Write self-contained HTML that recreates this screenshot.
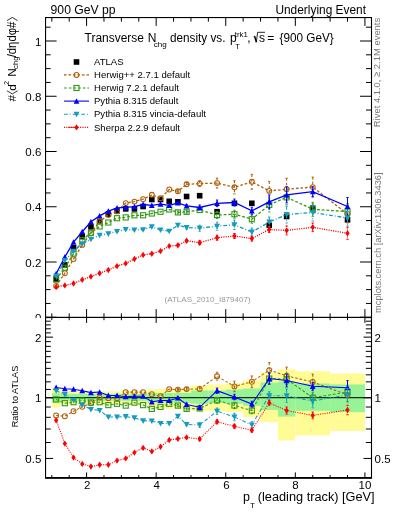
<!DOCTYPE html><html><head><meta charset="utf-8"><style>html,body{margin:0;padding:0;background:#fff;overflow:hidden}#w{will-change:transform;width:393px;height:512px}svg{display:block;font-family:"Liberation Sans",sans-serif}</style></head><body><div id="w"><svg width="393" height="512" viewBox="0 0 393 512">
<defs><clipPath id="cu"><rect x="45.6" y="17.6" width="325.4" height="299.8"/></clipPath><clipPath id="cr"><rect x="45.6" y="317.4" width="325.4" height="160.5"/></clipPath></defs>
<rect width="393" height="512" fill="#fff"/>
<text x="50.6" y="13.7" font-size="12" textLength="65" lengthAdjust="spacingAndGlyphs">900 GeV pp</text>
<text x="275.4" y="13.7" font-size="12" textLength="90.6" lengthAdjust="spacingAndGlyphs">Underlying Event</text>
<path d="M51.80,17.6v4 M51.80,317.4v-4 M69.19,17.6v4 M69.19,317.4v-4 M86.59,17.6v8.3 M86.59,317.4v-8.3 M103.98,17.6v4 M103.98,317.4v-4 M121.38,17.6v4 M121.38,317.4v-4 M138.77,17.6v4 M138.77,317.4v-4 M156.17,17.6v8.3 M156.17,317.4v-8.3 M173.56,17.6v4 M173.56,317.4v-4 M190.96,17.6v4 M190.96,317.4v-4 M208.36,17.6v4 M208.36,317.4v-4 M225.75,17.6v8.3 M225.75,317.4v-8.3 M243.14,17.6v4 M243.14,317.4v-4 M260.54,17.6v4 M260.54,317.4v-4 M277.94,17.6v4 M277.94,317.4v-4 M295.33,17.6v8.3 M295.33,317.4v-8.3 M312.73,17.6v4 M312.73,317.4v-4 M330.12,17.6v4 M330.12,317.4v-4 M347.51,17.6v4 M347.51,317.4v-4 M364.91,17.6v8.3 M364.91,317.4v-8.3 M45.6,317.25h11 M371,317.25h-11 M45.6,303.44h5 M371,303.44h-5 M45.6,289.62h5 M371,289.62h-5 M45.6,275.81h5 M371,275.81h-5 M45.6,262.00h11 M371,262.00h-11 M45.6,248.19h5 M371,248.19h-5 M45.6,234.38h5 M371,234.38h-5 M45.6,220.56h5 M371,220.56h-5 M45.6,206.75h11 M371,206.75h-11 M45.6,192.94h5 M371,192.94h-5 M45.6,179.12h5 M371,179.12h-5 M45.6,165.31h5 M371,165.31h-5 M45.6,151.50h11 M371,151.50h-11 M45.6,137.69h5 M371,137.69h-5 M45.6,123.88h5 M371,123.88h-5 M45.6,110.06h5 M371,110.06h-5 M45.6,96.25h11 M371,96.25h-11 M45.6,82.44h5 M371,82.44h-5 M45.6,68.62h5 M371,68.62h-5 M45.6,54.81h5 M371,54.81h-5 M45.6,41.00h11 M371,41.00h-11 M45.6,27.19h5 M371,27.19h-5" stroke="#000" stroke-width="1" fill="none"/>
<text x="41.3" y="321.95" font-size="11.5" text-anchor="end">0</text>
<text x="41.3" y="266.70" font-size="11.5" text-anchor="end">0.2</text>
<text x="41.3" y="211.45" font-size="11.5" text-anchor="end">0.4</text>
<text x="41.3" y="156.20" font-size="11.5" text-anchor="end">0.6</text>
<text x="41.3" y="100.95" font-size="11.5" text-anchor="end">0.8</text>
<text x="41.3" y="45.70" font-size="11.5" text-anchor="end">1</text>
<text x="84.6" y="41.8" font-size="12" textLength="59.3" lengthAdjust="spacingAndGlyphs">Transverse</text>
<text x="147.8" y="41.8" font-size="12">N</text>
<text x="153.8" y="47.0" font-size="8">chg</text>
<text x="169.9" y="41.8" font-size="12" textLength="55.6" lengthAdjust="spacingAndGlyphs">density vs.</text>
<text x="230.1" y="41.8" font-size="12">p</text>
<text x="234.8" y="37.2" font-size="7.8">trk1</text>
<text x="235.2" y="48.7" font-size="7.5">T</text>
<text x="247.3" y="41.8" font-size="12">,</text>
<path d="M253.6,36.7L254.6,36.1" stroke="#000" stroke-width="0.8"/><path d="M254.6,36.1L256.4,42.2" stroke="#000" stroke-width="1.5"/><path d="M256.4,42.2L257.6,32.3H265" fill="none" stroke="#000" stroke-width="0.85"/>
<text x="258.9" y="41.6" font-size="12">s</text>
<text x="267.2" y="41.8" font-size="12">=</text>
<text x="279.6" y="41.8" font-size="12" textLength="54.2" lengthAdjust="spacingAndGlyphs">{900 GeV}</text>
<rect x="73.70" y="59.20" width="5.6" height="5.6" fill="#000"/>
<text x="94.0" y="64.9" font-size="9.55">ATLAS</text>
<path d="M64,74.9H89" stroke="#af5f0a" stroke-width="1.1" stroke-dasharray="2.6 1.9"/>
<circle cx="76.50" cy="74.90" r="2.45" fill="none" stroke="#af5f0a" stroke-width="1.05"/>
<text x="94.0" y="77.7" font-size="9.55">Herwig++ 2.7.1 default</text>
<path d="M64,88.0H89" stroke="#339914" stroke-width="1.1" stroke-dasharray="2.8 1.9"/>
<rect x="73.95" y="85.45" width="5.1" height="5.1" fill="none" stroke="#339914" stroke-width="1.1"/>
<text x="94.0" y="90.9" font-size="9.55">Herwig 7.2.1 default</text>
<path d="M64,101.1H89" stroke="#0000ff" stroke-width="1.1"/>
<path d="M76.50,98.20L79.40,103.70L73.60,103.70Z" fill="#0000ff"/>
<text x="94.0" y="104.2" font-size="9.55">Pythia 8.315 default</text>
<path d="M64,114.2H89" stroke="#149bbe" stroke-width="1.1" stroke-dasharray="3.8 1.9 1 1.9"/>
<path d="M76.50,117.30L79.50,111.70L73.50,111.70Z" fill="#149bbe"/>
<text x="94.0" y="117.4" font-size="9.55">Pythia 8.315 vincia-default</text>
<path d="M64,127.4H89" stroke="#ff0000" stroke-width="1.1" stroke-dasharray="1.1 1.2"/>
<path d="M68.2,127.4H76" stroke="#ff0000" stroke-width="1" stroke-opacity="0.8"/>
<path d="M76.50,124.20L78.65,127.40L76.50,130.60L74.35,127.40Z" fill="#ff0000"/>
<text x="94.0" y="130.7" font-size="9.55">Sherpa 2.2.9 default</text>
<text x="207.6" y="301.8" font-size="8.05" fill="#999" text-anchor="middle">(ATLAS_2010_I879407)</text>
<g clip-path="url(#cu)"><rect x="53.35" y="276.70" width="5.6" height="5.6" fill="#000"/>
<rect x="62.05" y="262.10" width="5.6" height="5.6" fill="#000"/>
<rect x="70.74" y="245.00" width="5.6" height="5.6" fill="#000"/>
<rect x="79.44" y="233.80" width="5.6" height="5.6" fill="#000"/>
<rect x="88.14" y="224.10" width="5.6" height="5.6" fill="#000"/>
<rect x="96.84" y="218.70" width="5.6" height="5.6" fill="#000"/>
<rect x="105.53" y="211.40" width="5.6" height="5.6" fill="#000"/>
<rect x="114.23" y="208.10" width="5.6" height="5.6" fill="#000"/>
<rect x="122.93" y="206.10" width="5.6" height="5.6" fill="#000"/>
<rect x="131.63" y="206.10" width="5.6" height="5.6" fill="#000"/>
<rect x="140.32" y="203.70" width="5.6" height="5.6" fill="#000"/>
<rect x="149.02" y="196.70" width="5.6" height="5.6" fill="#000"/>
<rect x="157.72" y="196.70" width="5.6" height="5.6" fill="#000"/>
<rect x="166.42" y="198.50" width="5.6" height="5.6" fill="#000"/>
<rect x="175.11" y="199.00" width="5.6" height="5.6" fill="#000"/>
<rect x="183.81" y="193.70" width="5.6" height="5.6" fill="#000"/>
<rect x="196.86" y="192.90" width="5.6" height="5.6" fill="#000"/>
<rect x="214.25" y="208.90" width="5.6" height="5.6" fill="#000"/>
<rect x="231.65" y="200.50" width="5.6" height="5.6" fill="#000"/>
<rect x="249.04" y="200.50" width="5.6" height="5.6" fill="#000"/>
<rect x="266.44" y="222.50" width="5.6" height="5.6" fill="#000"/>
<rect x="283.83" y="213.70" width="5.6" height="5.6" fill="#000"/>
<rect x="309.93" y="205.40" width="5.6" height="5.6" fill="#000"/>
<rect x="344.71" y="217.00" width="5.6" height="5.6" fill="#000"/></g>
<g clip-path="url(#cu)"><path d="M56.15,285.90 L64.85,273.20 L73.54,259.10 L82.24,244.90 L90.94,233.20 L99.64,221.50 L108.33,215.10 L117.03,211.40 L125.73,203.10 L134.43,201.60 L143.12,199.20 L151.82,194.80 L160.52,198.30 L169.22,189.50 L177.91,191.30 L186.61,184.30 L199.66,183.60 L217.05,183.10 L234.45,187.30 L251.84,181.80 L269.24,190.90 L286.63,189.20 L312.73,187.10 L347.51,214.00" fill="none" stroke="#af5f0a" stroke-width="1.3" stroke-dasharray="2.6 1.9"/>
<path d="M177.91,189.80V192.80M186.61,182.30V186.30M199.66,180.60V186.60M217.05,178.10V188.10M234.45,180.70V193.90M251.84,174.40V189.20M269.24,181.40V200.40M286.63,178.20V200.20M312.73,177.10V197.10M347.51,205.00V223.00" stroke="#af5f0a" stroke-width="1.05" stroke-dasharray="2.6 1.9"/>
<path d="M176.71,189.80h2.4M176.71,192.80h2.4M185.41,182.30h2.4M185.41,186.30h2.4M198.46,180.60h2.4M198.46,186.60h2.4M215.85,178.10h2.4M215.85,188.10h2.4M233.25,180.70h2.4M233.25,193.90h2.4M250.64,174.40h2.4M250.64,189.20h2.4M268.04,181.40h2.4M268.04,200.40h2.4M285.43,178.20h2.4M285.43,200.20h2.4M311.53,177.10h2.4M311.53,197.10h2.4M346.31,205.00h2.4M346.31,223.00h2.4" stroke="#af5f0a" stroke-width="0.9"/>
<circle cx="56.15" cy="285.90" r="2.45" fill="none" stroke="#af5f0a" stroke-width="1.05"/>
<circle cx="64.85" cy="273.20" r="2.45" fill="none" stroke="#af5f0a" stroke-width="1.05"/>
<circle cx="73.54" cy="259.10" r="2.45" fill="none" stroke="#af5f0a" stroke-width="1.05"/>
<circle cx="82.24" cy="244.90" r="2.45" fill="none" stroke="#af5f0a" stroke-width="1.05"/>
<circle cx="90.94" cy="233.20" r="2.45" fill="none" stroke="#af5f0a" stroke-width="1.05"/>
<circle cx="99.64" cy="221.50" r="2.45" fill="none" stroke="#af5f0a" stroke-width="1.05"/>
<circle cx="108.33" cy="215.10" r="2.45" fill="none" stroke="#af5f0a" stroke-width="1.05"/>
<circle cx="117.03" cy="211.40" r="2.45" fill="none" stroke="#af5f0a" stroke-width="1.05"/>
<circle cx="125.73" cy="203.10" r="2.45" fill="none" stroke="#af5f0a" stroke-width="1.05"/>
<circle cx="134.43" cy="201.60" r="2.45" fill="none" stroke="#af5f0a" stroke-width="1.05"/>
<circle cx="143.12" cy="199.20" r="2.45" fill="none" stroke="#af5f0a" stroke-width="1.05"/>
<circle cx="151.82" cy="194.80" r="2.45" fill="none" stroke="#af5f0a" stroke-width="1.05"/>
<circle cx="160.52" cy="198.30" r="2.45" fill="none" stroke="#af5f0a" stroke-width="1.05"/>
<circle cx="169.22" cy="189.50" r="2.45" fill="none" stroke="#af5f0a" stroke-width="1.05"/>
<circle cx="177.91" cy="191.30" r="2.45" fill="none" stroke="#af5f0a" stroke-width="1.05"/>
<circle cx="186.61" cy="184.30" r="2.45" fill="none" stroke="#af5f0a" stroke-width="1.05"/>
<circle cx="199.66" cy="183.60" r="2.45" fill="none" stroke="#af5f0a" stroke-width="1.05"/>
<circle cx="217.05" cy="183.10" r="2.45" fill="none" stroke="#af5f0a" stroke-width="1.05"/>
<circle cx="234.45" cy="187.30" r="2.45" fill="none" stroke="#af5f0a" stroke-width="1.05"/>
<circle cx="251.84" cy="181.80" r="2.45" fill="none" stroke="#af5f0a" stroke-width="1.05"/>
<circle cx="269.24" cy="190.90" r="2.45" fill="none" stroke="#af5f0a" stroke-width="1.05"/>
<circle cx="286.63" cy="189.20" r="2.45" fill="none" stroke="#af5f0a" stroke-width="1.05"/>
<circle cx="312.73" cy="187.10" r="2.45" fill="none" stroke="#af5f0a" stroke-width="1.05"/>
<circle cx="347.51" cy="214.00" r="2.45" fill="none" stroke="#af5f0a" stroke-width="1.05"/></g>
<g clip-path="url(#cu)"><path d="M56.15,279.30 L64.85,267.70 L73.54,253.60 L82.24,240.20 L90.94,232.70 L99.64,226.40 L108.33,222.50 L117.03,218.20 L125.73,217.40 L134.43,215.30 L143.12,215.30 L151.82,213.50 L160.52,211.80 L169.22,209.50 L177.91,212.40 L186.61,211.80 L199.66,210.00 L217.05,215.00 L234.45,214.20 L251.84,219.20 L269.24,204.90 L286.63,197.30 L312.73,209.30 L347.51,211.60" fill="none" stroke="#339914" stroke-width="1.3" stroke-dasharray="2.8 1.9"/>
<path d="M177.91,210.90V213.90M186.61,210.30V213.30M199.66,207.50V212.50M217.05,211.50V218.50M234.45,210.20V218.20M251.84,215.20V223.20M269.24,197.90V211.90M286.63,190.30V204.30M312.73,202.30V216.30M347.51,203.60V219.60" stroke="#339914" stroke-width="1.05" stroke-dasharray="2.8 1.9"/>
<path d="M176.71,210.90h2.4M176.71,213.90h2.4M185.41,210.30h2.4M185.41,213.30h2.4M198.46,207.50h2.4M198.46,212.50h2.4M215.85,211.50h2.4M215.85,218.50h2.4M233.25,210.20h2.4M233.25,218.20h2.4M250.64,215.20h2.4M250.64,223.20h2.4M268.04,197.90h2.4M268.04,211.90h2.4M285.43,190.30h2.4M285.43,204.30h2.4M311.53,202.30h2.4M311.53,216.30h2.4M346.31,203.60h2.4M346.31,219.60h2.4" stroke="#339914" stroke-width="0.9"/>
<rect x="53.60" y="276.75" width="5.1" height="5.1" fill="none" stroke="#339914" stroke-width="1.1"/>
<rect x="62.30" y="265.15" width="5.1" height="5.1" fill="none" stroke="#339914" stroke-width="1.1"/>
<rect x="70.99" y="251.05" width="5.1" height="5.1" fill="none" stroke="#339914" stroke-width="1.1"/>
<rect x="79.69" y="237.65" width="5.1" height="5.1" fill="none" stroke="#339914" stroke-width="1.1"/>
<rect x="88.39" y="230.15" width="5.1" height="5.1" fill="none" stroke="#339914" stroke-width="1.1"/>
<rect x="97.09" y="223.85" width="5.1" height="5.1" fill="none" stroke="#339914" stroke-width="1.1"/>
<rect x="105.78" y="219.95" width="5.1" height="5.1" fill="none" stroke="#339914" stroke-width="1.1"/>
<rect x="114.48" y="215.65" width="5.1" height="5.1" fill="none" stroke="#339914" stroke-width="1.1"/>
<rect x="123.18" y="214.85" width="5.1" height="5.1" fill="none" stroke="#339914" stroke-width="1.1"/>
<rect x="131.88" y="212.75" width="5.1" height="5.1" fill="none" stroke="#339914" stroke-width="1.1"/>
<rect x="140.57" y="212.75" width="5.1" height="5.1" fill="none" stroke="#339914" stroke-width="1.1"/>
<rect x="149.27" y="210.95" width="5.1" height="5.1" fill="none" stroke="#339914" stroke-width="1.1"/>
<rect x="157.97" y="209.25" width="5.1" height="5.1" fill="none" stroke="#339914" stroke-width="1.1"/>
<rect x="166.67" y="206.95" width="5.1" height="5.1" fill="none" stroke="#339914" stroke-width="1.1"/>
<rect x="175.36" y="209.85" width="5.1" height="5.1" fill="none" stroke="#339914" stroke-width="1.1"/>
<rect x="184.06" y="209.25" width="5.1" height="5.1" fill="none" stroke="#339914" stroke-width="1.1"/>
<rect x="197.11" y="207.45" width="5.1" height="5.1" fill="none" stroke="#339914" stroke-width="1.1"/>
<rect x="214.50" y="212.45" width="5.1" height="5.1" fill="none" stroke="#339914" stroke-width="1.1"/>
<rect x="231.90" y="211.65" width="5.1" height="5.1" fill="none" stroke="#339914" stroke-width="1.1"/>
<rect x="249.29" y="216.65" width="5.1" height="5.1" fill="none" stroke="#339914" stroke-width="1.1"/>
<rect x="266.69" y="202.35" width="5.1" height="5.1" fill="none" stroke="#339914" stroke-width="1.1"/>
<rect x="284.08" y="194.75" width="5.1" height="5.1" fill="none" stroke="#339914" stroke-width="1.1"/>
<rect x="310.18" y="206.75" width="5.1" height="5.1" fill="none" stroke="#339914" stroke-width="1.1"/>
<rect x="344.96" y="209.05" width="5.1" height="5.1" fill="none" stroke="#339914" stroke-width="1.1"/></g>
<g clip-path="url(#cu)"><path d="M56.15,273.70 L64.85,257.00 L73.54,242.20 L82.24,231.75 L90.94,221.70 L99.64,215.90 L108.33,211.20 L117.03,207.90 L125.73,207.40 L134.43,206.60 L143.12,204.50 L151.82,205.40 L160.52,204.20 L169.22,205.40 L177.91,203.00 L186.61,205.90 L199.66,207.50 L217.05,203.30 L234.45,202.50 L251.84,210.80 L269.24,201.90 L286.63,194.80 L312.73,191.70 L347.51,206.50" fill="none" stroke="#0000ff" stroke-width="1.3"/>
<path d="M177.91,201.50V204.50M186.61,204.40V207.40M199.66,205.00V210.00M217.05,200.00V206.60M234.45,199.00V206.00M251.84,207.30V214.30M269.24,194.90V208.90M286.63,186.80V202.80M312.73,186.70V196.70M347.51,197.50V215.50" stroke="#0000ff" stroke-width="1.05"/>
<path d="M176.71,201.50h2.4M176.71,204.50h2.4M185.41,204.40h2.4M185.41,207.40h2.4M198.46,205.00h2.4M198.46,210.00h2.4M215.85,200.00h2.4M215.85,206.60h2.4M233.25,199.00h2.4M233.25,206.00h2.4M250.64,207.30h2.4M250.64,214.30h2.4M268.04,194.90h2.4M268.04,208.90h2.4M285.43,186.80h2.4M285.43,202.80h2.4M311.53,186.70h2.4M311.53,196.70h2.4M346.31,197.50h2.4M346.31,215.50h2.4" stroke="#0000ff" stroke-width="0.9"/>
<path d="M56.15,270.80L59.05,276.30L53.25,276.30Z" fill="#0000ff"/>
<path d="M64.85,254.10L67.75,259.60L61.95,259.60Z" fill="#0000ff"/>
<path d="M73.54,239.30L76.44,244.80L70.64,244.80Z" fill="#0000ff"/>
<path d="M82.24,228.85L85.14,234.35L79.34,234.35Z" fill="#0000ff"/>
<path d="M90.94,218.80L93.84,224.30L88.04,224.30Z" fill="#0000ff"/>
<path d="M99.64,213.00L102.54,218.50L96.74,218.50Z" fill="#0000ff"/>
<path d="M108.33,208.30L111.23,213.80L105.43,213.80Z" fill="#0000ff"/>
<path d="M117.03,205.00L119.93,210.50L114.13,210.50Z" fill="#0000ff"/>
<path d="M125.73,204.50L128.63,210.00L122.83,210.00Z" fill="#0000ff"/>
<path d="M134.43,203.70L137.33,209.20L131.53,209.20Z" fill="#0000ff"/>
<path d="M143.12,201.60L146.02,207.10L140.22,207.10Z" fill="#0000ff"/>
<path d="M151.82,202.50L154.72,208.00L148.92,208.00Z" fill="#0000ff"/>
<path d="M160.52,201.30L163.42,206.80L157.62,206.80Z" fill="#0000ff"/>
<path d="M169.22,202.50L172.12,208.00L166.32,208.00Z" fill="#0000ff"/>
<path d="M177.91,200.10L180.81,205.60L175.01,205.60Z" fill="#0000ff"/>
<path d="M186.61,203.00L189.51,208.50L183.71,208.50Z" fill="#0000ff"/>
<path d="M199.66,204.60L202.56,210.10L196.76,210.10Z" fill="#0000ff"/>
<path d="M217.05,200.40L219.95,205.90L214.15,205.90Z" fill="#0000ff"/>
<path d="M234.45,199.60L237.35,205.10L231.55,205.10Z" fill="#0000ff"/>
<path d="M251.84,207.90L254.74,213.40L248.94,213.40Z" fill="#0000ff"/>
<path d="M269.24,199.00L272.14,204.50L266.34,204.50Z" fill="#0000ff"/>
<path d="M286.63,191.90L289.53,197.40L283.73,197.40Z" fill="#0000ff"/>
<path d="M312.73,188.80L315.62,194.30L309.83,194.30Z" fill="#0000ff"/>
<path d="M347.51,203.60L350.41,209.10L344.62,209.10Z" fill="#0000ff"/></g>
<g clip-path="url(#cu)"><path d="M56.15,276.10 L64.85,260.50 L73.54,251.20 L82.24,243.80 L90.94,239.20 L99.64,235.20 L108.33,233.80 L117.03,231.50 L125.73,229.40 L134.43,229.90 L143.12,229.70 L151.82,226.80 L160.52,230.00 L169.22,231.20 L177.91,225.20 L186.61,227.60 L199.66,228.20 L217.05,226.20 L234.45,224.80 L251.84,232.10 L269.24,222.00 L286.63,214.50 L312.73,212.50 L347.51,218.00" fill="none" stroke="#149bbe" stroke-width="1.3" stroke-dasharray="3.8 1.9 1 1.9"/>
<path d="M177.91,223.70V226.70M186.61,226.10V229.10M199.66,225.20V231.20M217.05,222.20V230.20M234.45,220.10V229.50M251.84,228.10V236.10M269.24,217.00V227.00M286.63,206.00V223.00M312.73,204.00V221.00M347.51,210.00V226.00" stroke="#149bbe" stroke-width="1.05" stroke-dasharray="3.8 1.9 1 1.9"/>
<path d="M176.71,223.70h2.4M176.71,226.70h2.4M185.41,226.10h2.4M185.41,229.10h2.4M198.46,225.20h2.4M198.46,231.20h2.4M215.85,222.20h2.4M215.85,230.20h2.4M233.25,220.10h2.4M233.25,229.50h2.4M250.64,228.10h2.4M250.64,236.10h2.4M268.04,217.00h2.4M268.04,227.00h2.4M285.43,206.00h2.4M285.43,223.00h2.4M311.53,204.00h2.4M311.53,221.00h2.4M346.31,210.00h2.4M346.31,226.00h2.4" stroke="#149bbe" stroke-width="0.9"/>
<path d="M56.15,279.20L59.15,273.60L53.15,273.60Z" fill="#149bbe"/>
<path d="M64.85,263.60L67.85,258.00L61.85,258.00Z" fill="#149bbe"/>
<path d="M73.54,254.30L76.54,248.70L70.54,248.70Z" fill="#149bbe"/>
<path d="M82.24,246.90L85.24,241.30L79.24,241.30Z" fill="#149bbe"/>
<path d="M90.94,242.30L93.94,236.70L87.94,236.70Z" fill="#149bbe"/>
<path d="M99.64,238.30L102.64,232.70L96.64,232.70Z" fill="#149bbe"/>
<path d="M108.33,236.90L111.33,231.30L105.33,231.30Z" fill="#149bbe"/>
<path d="M117.03,234.60L120.03,229.00L114.03,229.00Z" fill="#149bbe"/>
<path d="M125.73,232.50L128.73,226.90L122.73,226.90Z" fill="#149bbe"/>
<path d="M134.43,233.00L137.43,227.40L131.43,227.40Z" fill="#149bbe"/>
<path d="M143.12,232.80L146.12,227.20L140.12,227.20Z" fill="#149bbe"/>
<path d="M151.82,229.90L154.82,224.30L148.82,224.30Z" fill="#149bbe"/>
<path d="M160.52,233.10L163.52,227.50L157.52,227.50Z" fill="#149bbe"/>
<path d="M169.22,234.30L172.22,228.70L166.22,228.70Z" fill="#149bbe"/>
<path d="M177.91,228.30L180.91,222.70L174.91,222.70Z" fill="#149bbe"/>
<path d="M186.61,230.70L189.61,225.10L183.61,225.10Z" fill="#149bbe"/>
<path d="M199.66,231.30L202.66,225.70L196.66,225.70Z" fill="#149bbe"/>
<path d="M217.05,229.30L220.05,223.70L214.05,223.70Z" fill="#149bbe"/>
<path d="M234.45,227.90L237.45,222.30L231.45,222.30Z" fill="#149bbe"/>
<path d="M251.84,235.20L254.84,229.60L248.84,229.60Z" fill="#149bbe"/>
<path d="M269.24,225.10L272.24,219.50L266.24,219.50Z" fill="#149bbe"/>
<path d="M286.63,217.60L289.63,212.00L283.63,212.00Z" fill="#149bbe"/>
<path d="M312.73,215.60L315.73,210.00L309.73,210.00Z" fill="#149bbe"/>
<path d="M347.51,221.10L350.51,215.50L344.51,215.50Z" fill="#149bbe"/></g>
<g clip-path="url(#cu)"><path d="M56.15,287.00 L64.85,285.40 L73.54,283.50 L82.24,279.80 L90.94,276.60 L99.64,273.20 L108.33,270.00 L117.03,266.10 L125.73,263.40 L134.43,259.00 L143.12,254.90 L151.82,253.70 L160.52,251.10 L169.22,246.10 L177.91,245.30 L186.61,240.80 L199.66,242.70 L217.05,237.70 L234.45,236.00 L251.84,238.60 L269.24,229.50 L286.63,230.40 L312.73,227.30 L347.51,233.30" fill="none" stroke="#ff0000" stroke-width="1.3" stroke-dasharray="1.1 1.2"/>
<path d="M177.91,244.30V246.30M186.61,239.80V241.80M199.66,240.70V244.70M217.05,235.20V240.20M234.45,233.50V238.50M251.84,236.10V241.10M269.24,226.50V232.50M286.63,225.90V234.90M312.73,223.00V231.60M347.51,227.30V239.30" stroke="#ff0000" stroke-width="1.05" stroke-dasharray="1.1 1.2"/>
<path d="M176.71,244.30h2.4M176.71,246.30h2.4M185.41,239.80h2.4M185.41,241.80h2.4M198.46,240.70h2.4M198.46,244.70h2.4M215.85,235.20h2.4M215.85,240.20h2.4M233.25,233.50h2.4M233.25,238.50h2.4M250.64,236.10h2.4M250.64,241.10h2.4M268.04,226.50h2.4M268.04,232.50h2.4M285.43,225.90h2.4M285.43,234.90h2.4M311.53,223.00h2.4M311.53,231.60h2.4M346.31,227.30h2.4M346.31,239.30h2.4" stroke="#ff0000" stroke-width="0.9"/>
<path d="M56.15,283.80L58.30,287.00L56.15,290.20L54.00,287.00Z" fill="#ff0000"/>
<path d="M64.85,282.20L67.00,285.40L64.85,288.60L62.70,285.40Z" fill="#ff0000"/>
<path d="M73.54,280.30L75.69,283.50L73.54,286.70L71.39,283.50Z" fill="#ff0000"/>
<path d="M82.24,276.60L84.39,279.80L82.24,283.00L80.09,279.80Z" fill="#ff0000"/>
<path d="M90.94,273.40L93.09,276.60L90.94,279.80L88.79,276.60Z" fill="#ff0000"/>
<path d="M99.64,270.00L101.79,273.20L99.64,276.40L97.49,273.20Z" fill="#ff0000"/>
<path d="M108.33,266.80L110.48,270.00L108.33,273.20L106.18,270.00Z" fill="#ff0000"/>
<path d="M117.03,262.90L119.18,266.10L117.03,269.30L114.88,266.10Z" fill="#ff0000"/>
<path d="M125.73,260.20L127.88,263.40L125.73,266.60L123.58,263.40Z" fill="#ff0000"/>
<path d="M134.43,255.80L136.58,259.00L134.43,262.20L132.28,259.00Z" fill="#ff0000"/>
<path d="M143.12,251.70L145.27,254.90L143.12,258.10L140.97,254.90Z" fill="#ff0000"/>
<path d="M151.82,250.50L153.97,253.70L151.82,256.90L149.67,253.70Z" fill="#ff0000"/>
<path d="M160.52,247.90L162.67,251.10L160.52,254.30L158.37,251.10Z" fill="#ff0000"/>
<path d="M169.22,242.90L171.37,246.10L169.22,249.30L167.07,246.10Z" fill="#ff0000"/>
<path d="M177.91,242.10L180.06,245.30L177.91,248.50L175.76,245.30Z" fill="#ff0000"/>
<path d="M186.61,237.60L188.76,240.80L186.61,244.00L184.46,240.80Z" fill="#ff0000"/>
<path d="M199.66,239.50L201.81,242.70L199.66,245.90L197.51,242.70Z" fill="#ff0000"/>
<path d="M217.05,234.50L219.20,237.70L217.05,240.90L214.90,237.70Z" fill="#ff0000"/>
<path d="M234.45,232.80L236.60,236.00L234.45,239.20L232.30,236.00Z" fill="#ff0000"/>
<path d="M251.84,235.40L253.99,238.60L251.84,241.80L249.69,238.60Z" fill="#ff0000"/>
<path d="M269.24,226.30L271.39,229.50L269.24,232.70L267.09,229.50Z" fill="#ff0000"/>
<path d="M286.63,227.20L288.78,230.40L286.63,233.60L284.48,230.40Z" fill="#ff0000"/>
<path d="M312.73,224.10L314.88,227.30L312.73,230.50L310.58,227.30Z" fill="#ff0000"/>
<path d="M347.51,230.10L349.66,233.30L347.51,236.50L345.37,233.30Z" fill="#ff0000"/></g>
<rect x="45.55" y="17.55" width="325.95" height="300" fill="none" stroke="#000" stroke-width="1.1"/>
<rect x="0" y="317.9" width="393" height="194.1" fill="#fff"/>
<rect x="51.80" y="388.2" width="8.70" height="19.30" fill="#fffc96"/>
<rect x="60.50" y="391.2" width="8.70" height="13.20" fill="#fffc96"/>
<rect x="69.19" y="391.2" width="8.70" height="13.20" fill="#fffc96"/>
<rect x="77.89" y="391.2" width="8.70" height="13.20" fill="#fffc96"/>
<rect x="86.59" y="391.2" width="8.70" height="13.20" fill="#fffc96"/>
<rect x="95.29" y="391.2" width="8.70" height="13.20" fill="#fffc96"/>
<rect x="103.98" y="391.2" width="8.70" height="13.20" fill="#fffc96"/>
<rect x="112.68" y="391.2" width="8.70" height="13.20" fill="#fffc96"/>
<rect x="121.38" y="391.2" width="8.70" height="13.20" fill="#fffc96"/>
<rect x="130.08" y="391.2" width="8.70" height="13.20" fill="#fffc96"/>
<rect x="138.77" y="391.2" width="8.70" height="13.20" fill="#fffc96"/>
<rect x="147.47" y="389.1" width="8.70" height="19.80" fill="#fffc96"/>
<rect x="156.17" y="389.1" width="8.70" height="19.80" fill="#fffc96"/>
<rect x="164.87" y="389.1" width="8.70" height="19.80" fill="#fffc96"/>
<rect x="173.56" y="389.1" width="8.70" height="19.80" fill="#fffc96"/>
<rect x="182.26" y="389.1" width="8.70" height="19.80" fill="#fffc96"/>
<rect x="190.96" y="385.5" width="17.40" height="25.40" fill="#fffc96"/>
<rect x="208.36" y="384.4" width="17.39" height="26.50" fill="#fffc96"/>
<rect x="225.75" y="383.4" width="17.39" height="28.50" fill="#fffc96"/>
<rect x="243.14" y="380.4" width="17.40" height="36.60" fill="#fffc96"/>
<rect x="260.54" y="372.3" width="17.39" height="49.90" fill="#fffc96"/>
<rect x="277.94" y="369.3" width="17.39" height="71.20" fill="#fffc96"/>
<rect x="295.33" y="371.3" width="34.79" height="64.10" fill="#fffc96"/>
<rect x="330.12" y="373.5" width="34.79" height="57.40" fill="#fffc96"/>
<rect x="51.80" y="393.3" width="8.70" height="9.50" fill="#96f396"/>
<rect x="60.50" y="393.8" width="8.70" height="7.00" fill="#96f396"/>
<rect x="69.19" y="393.8" width="8.70" height="7.00" fill="#96f396"/>
<rect x="77.89" y="393.8" width="8.70" height="7.00" fill="#96f396"/>
<rect x="86.59" y="393.8" width="8.70" height="7.00" fill="#96f396"/>
<rect x="95.29" y="393.8" width="8.70" height="7.00" fill="#96f396"/>
<rect x="103.98" y="393.8" width="8.70" height="7.00" fill="#96f396"/>
<rect x="112.68" y="393.8" width="8.70" height="7.00" fill="#96f396"/>
<rect x="121.38" y="393.8" width="8.70" height="7.00" fill="#96f396"/>
<rect x="130.08" y="393.8" width="8.70" height="7.00" fill="#96f396"/>
<rect x="138.77" y="393.8" width="8.70" height="7.00" fill="#96f396"/>
<rect x="147.47" y="392.9" width="8.70" height="9.90" fill="#96f396"/>
<rect x="156.17" y="392.9" width="8.70" height="9.90" fill="#96f396"/>
<rect x="164.87" y="392.9" width="8.70" height="9.90" fill="#96f396"/>
<rect x="173.56" y="392.9" width="8.70" height="9.90" fill="#96f396"/>
<rect x="182.26" y="392.9" width="8.70" height="9.90" fill="#96f396"/>
<rect x="190.96" y="390.5" width="17.40" height="13.30" fill="#96f396"/>
<rect x="208.36" y="390.5" width="17.39" height="12.30" fill="#96f396"/>
<rect x="225.75" y="389.5" width="17.39" height="14.30" fill="#96f396"/>
<rect x="243.14" y="388.5" width="17.40" height="17.30" fill="#96f396"/>
<rect x="260.54" y="382.5" width="17.39" height="27.50" fill="#96f396"/>
<rect x="277.94" y="381.5" width="17.39" height="35.10" fill="#96f396"/>
<rect x="295.33" y="383.5" width="34.79" height="27.30" fill="#96f396"/>
<rect x="330.12" y="384.4" width="34.79" height="27.80" fill="#96f396"/>
<path d="M45.6,397.6H371" stroke="#000" stroke-opacity="0.82" stroke-width="1.2"/>
<g clip-path="url(#cr)"><path d="M56.15,415.50 L64.85,416.20 L73.54,411.30 L82.24,406.80 L90.94,403.20 L99.64,397.60 L108.33,398.20 L117.03,398.20 L125.73,392.10 L134.43,392.10 L143.12,392.10 L151.82,394.20 L160.52,396.20 L169.22,389.10 L177.91,389.60 L186.61,389.10 L199.66,388.90 L217.05,376.20 L234.45,386.40 L251.84,381.80 L269.24,370.10 L286.63,375.80 L312.73,382.00 L347.51,394.90" fill="none" stroke="#af5f0a" stroke-width="1.05" stroke-dasharray="2.6 1.9"/>
<path d="M177.91,388.42V390.79M186.61,387.52V390.68M199.66,386.53V391.27M217.05,372.25V380.15M234.45,381.19V391.61M251.84,375.95V387.65M269.24,362.60V377.61M286.63,367.11V384.49M312.73,374.10V389.90M347.51,387.79V402.01" stroke="#af5f0a" stroke-width="1.05" stroke-dasharray="2.6 1.9"/>
<path d="M176.71,388.42h2.4M176.71,390.79h2.4M185.41,387.52h2.4M185.41,390.68h2.4M198.46,386.53h2.4M198.46,391.27h2.4M215.85,372.25h2.4M215.85,380.15h2.4M233.25,381.19h2.4M233.25,391.61h2.4M250.64,375.95h2.4M250.64,387.65h2.4M268.04,362.60h2.4M268.04,377.61h2.4M285.43,367.11h2.4M285.43,384.49h2.4M311.53,374.10h2.4M311.53,389.90h2.4M346.31,387.79h2.4M346.31,402.01h2.4" stroke="#af5f0a" stroke-width="0.9"/>
<circle cx="56.15" cy="415.50" r="2.45" fill="none" stroke="#af5f0a" stroke-width="1.05"/>
<circle cx="64.85" cy="416.20" r="2.45" fill="none" stroke="#af5f0a" stroke-width="1.05"/>
<circle cx="73.54" cy="411.30" r="2.45" fill="none" stroke="#af5f0a" stroke-width="1.05"/>
<circle cx="82.24" cy="406.80" r="2.45" fill="none" stroke="#af5f0a" stroke-width="1.05"/>
<circle cx="90.94" cy="403.20" r="2.45" fill="none" stroke="#af5f0a" stroke-width="1.05"/>
<circle cx="99.64" cy="397.60" r="2.45" fill="none" stroke="#af5f0a" stroke-width="1.05"/>
<circle cx="108.33" cy="398.20" r="2.45" fill="none" stroke="#af5f0a" stroke-width="1.05"/>
<circle cx="117.03" cy="398.20" r="2.45" fill="none" stroke="#af5f0a" stroke-width="1.05"/>
<circle cx="125.73" cy="392.10" r="2.45" fill="none" stroke="#af5f0a" stroke-width="1.05"/>
<circle cx="134.43" cy="392.10" r="2.45" fill="none" stroke="#af5f0a" stroke-width="1.05"/>
<circle cx="143.12" cy="392.10" r="2.45" fill="none" stroke="#af5f0a" stroke-width="1.05"/>
<circle cx="151.82" cy="394.20" r="2.45" fill="none" stroke="#af5f0a" stroke-width="1.05"/>
<circle cx="160.52" cy="396.20" r="2.45" fill="none" stroke="#af5f0a" stroke-width="1.05"/>
<circle cx="169.22" cy="389.10" r="2.45" fill="none" stroke="#af5f0a" stroke-width="1.05"/>
<circle cx="177.91" cy="389.60" r="2.45" fill="none" stroke="#af5f0a" stroke-width="1.05"/>
<circle cx="186.61" cy="389.10" r="2.45" fill="none" stroke="#af5f0a" stroke-width="1.05"/>
<circle cx="199.66" cy="388.90" r="2.45" fill="none" stroke="#af5f0a" stroke-width="1.05"/>
<circle cx="217.05" cy="376.20" r="2.45" fill="none" stroke="#af5f0a" stroke-width="1.05"/>
<circle cx="234.45" cy="386.40" r="2.45" fill="none" stroke="#af5f0a" stroke-width="1.05"/>
<circle cx="251.84" cy="381.80" r="2.45" fill="none" stroke="#af5f0a" stroke-width="1.05"/>
<circle cx="269.24" cy="370.10" r="2.45" fill="none" stroke="#af5f0a" stroke-width="1.05"/>
<circle cx="286.63" cy="375.80" r="2.45" fill="none" stroke="#af5f0a" stroke-width="1.05"/>
<circle cx="312.73" cy="382.00" r="2.45" fill="none" stroke="#af5f0a" stroke-width="1.05"/>
<circle cx="347.51" cy="394.90" r="2.45" fill="none" stroke="#af5f0a" stroke-width="1.05"/></g>
<g clip-path="url(#cr)"><path d="M56.15,399.40 L64.85,403.20 L73.54,402.20 L82.24,400.60 L90.94,402.50 L99.64,402.20 L108.33,405.10 L117.03,403.80 L125.73,405.60 L134.43,402.60 L143.12,405.10 L151.82,408.90 L160.52,406.90 L169.22,403.80 L177.91,405.60 L186.61,408.90 L199.66,408.50 L217.05,400.40 L234.45,405.50 L251.84,410.60 L269.24,378.60 L286.63,379.20 L312.73,397.70 L347.51,392.00" fill="none" stroke="#339914" stroke-width="1.05" stroke-dasharray="2.8 1.9"/>
<path d="M177.91,404.42V406.79M186.61,407.71V410.08M199.66,406.52V410.48M217.05,397.63V403.16M234.45,402.34V408.66M251.84,407.44V413.76M269.24,373.07V384.13M286.63,373.67V384.73M312.73,392.17V403.23M347.51,385.68V398.32" stroke="#339914" stroke-width="1.05" stroke-dasharray="2.8 1.9"/>
<path d="M176.71,404.42h2.4M176.71,406.79h2.4M185.41,407.71h2.4M185.41,410.08h2.4M198.46,406.52h2.4M198.46,410.48h2.4M215.85,397.63h2.4M215.85,403.16h2.4M233.25,402.34h2.4M233.25,408.66h2.4M250.64,407.44h2.4M250.64,413.76h2.4M268.04,373.07h2.4M268.04,384.13h2.4M285.43,373.67h2.4M285.43,384.73h2.4M311.53,392.17h2.4M311.53,403.23h2.4M346.31,385.68h2.4M346.31,398.32h2.4" stroke="#339914" stroke-width="0.9"/>
<rect x="53.60" y="396.85" width="5.1" height="5.1" fill="none" stroke="#339914" stroke-width="1.1"/>
<rect x="62.30" y="400.65" width="5.1" height="5.1" fill="none" stroke="#339914" stroke-width="1.1"/>
<rect x="70.99" y="399.65" width="5.1" height="5.1" fill="none" stroke="#339914" stroke-width="1.1"/>
<rect x="79.69" y="398.05" width="5.1" height="5.1" fill="none" stroke="#339914" stroke-width="1.1"/>
<rect x="88.39" y="399.95" width="5.1" height="5.1" fill="none" stroke="#339914" stroke-width="1.1"/>
<rect x="97.09" y="399.65" width="5.1" height="5.1" fill="none" stroke="#339914" stroke-width="1.1"/>
<rect x="105.78" y="402.55" width="5.1" height="5.1" fill="none" stroke="#339914" stroke-width="1.1"/>
<rect x="114.48" y="401.25" width="5.1" height="5.1" fill="none" stroke="#339914" stroke-width="1.1"/>
<rect x="123.18" y="403.05" width="5.1" height="5.1" fill="none" stroke="#339914" stroke-width="1.1"/>
<rect x="131.88" y="400.05" width="5.1" height="5.1" fill="none" stroke="#339914" stroke-width="1.1"/>
<rect x="140.57" y="402.55" width="5.1" height="5.1" fill="none" stroke="#339914" stroke-width="1.1"/>
<rect x="149.27" y="406.35" width="5.1" height="5.1" fill="none" stroke="#339914" stroke-width="1.1"/>
<rect x="157.97" y="404.35" width="5.1" height="5.1" fill="none" stroke="#339914" stroke-width="1.1"/>
<rect x="166.67" y="401.25" width="5.1" height="5.1" fill="none" stroke="#339914" stroke-width="1.1"/>
<rect x="175.36" y="403.05" width="5.1" height="5.1" fill="none" stroke="#339914" stroke-width="1.1"/>
<rect x="184.06" y="406.35" width="5.1" height="5.1" fill="none" stroke="#339914" stroke-width="1.1"/>
<rect x="197.11" y="405.95" width="5.1" height="5.1" fill="none" stroke="#339914" stroke-width="1.1"/>
<rect x="214.50" y="397.85" width="5.1" height="5.1" fill="none" stroke="#339914" stroke-width="1.1"/>
<rect x="231.90" y="402.95" width="5.1" height="5.1" fill="none" stroke="#339914" stroke-width="1.1"/>
<rect x="249.29" y="408.05" width="5.1" height="5.1" fill="none" stroke="#339914" stroke-width="1.1"/>
<rect x="266.69" y="376.05" width="5.1" height="5.1" fill="none" stroke="#339914" stroke-width="1.1"/>
<rect x="284.08" y="376.65" width="5.1" height="5.1" fill="none" stroke="#339914" stroke-width="1.1"/>
<rect x="310.18" y="395.15" width="5.1" height="5.1" fill="none" stroke="#339914" stroke-width="1.1"/>
<rect x="344.96" y="389.45" width="5.1" height="5.1" fill="none" stroke="#339914" stroke-width="1.1"/></g>
<g clip-path="url(#cr)"><path d="M56.15,387.50 L64.85,388.70 L73.54,389.20 L82.24,390.70 L90.94,392.60 L99.64,392.10 L108.33,395.40 L117.03,395.40 L125.73,396.70 L134.43,396.20 L143.12,396.20 L151.82,401.80 L160.52,400.50 L169.22,400.50 L177.91,398.00 L186.61,404.40 L199.66,407.30 L217.05,390.70 L234.45,397.00 L251.84,404.00 L269.24,378.60 L286.63,380.60 L312.73,386.30 L347.51,387.70" fill="none" stroke="#0000ff" stroke-width="1.05"/>
<path d="M177.91,396.81V399.19M186.61,403.21V405.58M199.66,405.32V409.28M217.05,388.09V393.31M234.45,394.24V399.76M251.84,401.24V406.76M269.24,373.07V384.13M286.63,374.28V386.92M312.73,382.35V390.25M347.51,380.59V394.81" stroke="#0000ff" stroke-width="1.05"/>
<path d="M176.71,396.81h2.4M176.71,399.19h2.4M185.41,403.21h2.4M185.41,405.58h2.4M198.46,405.32h2.4M198.46,409.28h2.4M215.85,388.09h2.4M215.85,393.31h2.4M233.25,394.24h2.4M233.25,399.76h2.4M250.64,401.24h2.4M250.64,406.76h2.4M268.04,373.07h2.4M268.04,384.13h2.4M285.43,374.28h2.4M285.43,386.92h2.4M311.53,382.35h2.4M311.53,390.25h2.4M346.31,380.59h2.4M346.31,394.81h2.4" stroke="#0000ff" stroke-width="0.9"/>
<path d="M56.15,384.60L59.05,390.10L53.25,390.10Z" fill="#0000ff"/>
<path d="M64.85,385.80L67.75,391.30L61.95,391.30Z" fill="#0000ff"/>
<path d="M73.54,386.30L76.44,391.80L70.64,391.80Z" fill="#0000ff"/>
<path d="M82.24,387.80L85.14,393.30L79.34,393.30Z" fill="#0000ff"/>
<path d="M90.94,389.70L93.84,395.20L88.04,395.20Z" fill="#0000ff"/>
<path d="M99.64,389.20L102.54,394.70L96.74,394.70Z" fill="#0000ff"/>
<path d="M108.33,392.50L111.23,398.00L105.43,398.00Z" fill="#0000ff"/>
<path d="M117.03,392.50L119.93,398.00L114.13,398.00Z" fill="#0000ff"/>
<path d="M125.73,393.80L128.63,399.30L122.83,399.30Z" fill="#0000ff"/>
<path d="M134.43,393.30L137.33,398.80L131.53,398.80Z" fill="#0000ff"/>
<path d="M143.12,393.30L146.02,398.80L140.22,398.80Z" fill="#0000ff"/>
<path d="M151.82,398.90L154.72,404.40L148.92,404.40Z" fill="#0000ff"/>
<path d="M160.52,397.60L163.42,403.10L157.62,403.10Z" fill="#0000ff"/>
<path d="M169.22,397.60L172.12,403.10L166.32,403.10Z" fill="#0000ff"/>
<path d="M177.91,395.10L180.81,400.60L175.01,400.60Z" fill="#0000ff"/>
<path d="M186.61,401.50L189.51,407.00L183.71,407.00Z" fill="#0000ff"/>
<path d="M199.66,404.40L202.56,409.90L196.76,409.90Z" fill="#0000ff"/>
<path d="M217.05,387.80L219.95,393.30L214.15,393.30Z" fill="#0000ff"/>
<path d="M234.45,394.10L237.35,399.60L231.55,399.60Z" fill="#0000ff"/>
<path d="M251.84,401.10L254.74,406.60L248.94,406.60Z" fill="#0000ff"/>
<path d="M269.24,375.70L272.14,381.20L266.34,381.20Z" fill="#0000ff"/>
<path d="M286.63,377.70L289.53,383.20L283.73,383.20Z" fill="#0000ff"/>
<path d="M312.73,383.40L315.62,388.90L309.83,388.90Z" fill="#0000ff"/>
<path d="M347.51,384.80L350.41,390.30L344.62,390.30Z" fill="#0000ff"/></g>
<g clip-path="url(#cr)"><path d="M56.15,390.70 L64.85,394.50 L73.54,400.20 L82.24,404.80 L90.94,409.40 L99.64,410.50 L108.33,417.00 L117.03,417.00 L125.73,416.60 L134.43,417.80 L143.12,420.80 L151.82,421.00 L160.52,423.40 L169.22,423.40 L177.91,416.30 L186.61,424.40 L199.66,425.00 L217.05,411.20 L234.45,417.00 L251.84,424.90 L269.24,395.70 L286.63,395.70 L312.73,401.10 L347.51,394.90" fill="none" stroke="#149bbe" stroke-width="1.05" stroke-dasharray="3.8 1.9 1 1.9"/>
<path d="M177.91,415.12V417.49M186.61,423.21V425.58M199.66,422.63V427.37M217.05,408.04V414.36M234.45,413.29V420.71M251.84,421.74V428.06M269.24,391.75V399.65M286.63,388.99V402.41M312.73,394.39V407.81M347.51,388.58V401.22" stroke="#149bbe" stroke-width="1.05" stroke-dasharray="3.8 1.9 1 1.9"/>
<path d="M176.71,415.12h2.4M176.71,417.49h2.4M185.41,423.21h2.4M185.41,425.58h2.4M198.46,422.63h2.4M198.46,427.37h2.4M215.85,408.04h2.4M215.85,414.36h2.4M233.25,413.29h2.4M233.25,420.71h2.4M250.64,421.74h2.4M250.64,428.06h2.4M268.04,391.75h2.4M268.04,399.65h2.4M285.43,388.99h2.4M285.43,402.41h2.4M311.53,394.39h2.4M311.53,407.81h2.4M346.31,388.58h2.4M346.31,401.22h2.4" stroke="#149bbe" stroke-width="0.9"/>
<path d="M56.15,393.80L59.15,388.20L53.15,388.20Z" fill="#149bbe"/>
<path d="M64.85,397.60L67.85,392.00L61.85,392.00Z" fill="#149bbe"/>
<path d="M73.54,403.30L76.54,397.70L70.54,397.70Z" fill="#149bbe"/>
<path d="M82.24,407.90L85.24,402.30L79.24,402.30Z" fill="#149bbe"/>
<path d="M90.94,412.50L93.94,406.90L87.94,406.90Z" fill="#149bbe"/>
<path d="M99.64,413.60L102.64,408.00L96.64,408.00Z" fill="#149bbe"/>
<path d="M108.33,420.10L111.33,414.50L105.33,414.50Z" fill="#149bbe"/>
<path d="M117.03,420.10L120.03,414.50L114.03,414.50Z" fill="#149bbe"/>
<path d="M125.73,419.70L128.73,414.10L122.73,414.10Z" fill="#149bbe"/>
<path d="M134.43,420.90L137.43,415.30L131.43,415.30Z" fill="#149bbe"/>
<path d="M143.12,423.90L146.12,418.30L140.12,418.30Z" fill="#149bbe"/>
<path d="M151.82,424.10L154.82,418.50L148.82,418.50Z" fill="#149bbe"/>
<path d="M160.52,426.50L163.52,420.90L157.52,420.90Z" fill="#149bbe"/>
<path d="M169.22,426.50L172.22,420.90L166.22,420.90Z" fill="#149bbe"/>
<path d="M177.91,419.40L180.91,413.80L174.91,413.80Z" fill="#149bbe"/>
<path d="M186.61,427.50L189.61,421.90L183.61,421.90Z" fill="#149bbe"/>
<path d="M199.66,428.10L202.66,422.50L196.66,422.50Z" fill="#149bbe"/>
<path d="M217.05,414.30L220.05,408.70L214.05,408.70Z" fill="#149bbe"/>
<path d="M234.45,420.10L237.45,414.50L231.45,414.50Z" fill="#149bbe"/>
<path d="M251.84,428.00L254.84,422.40L248.84,422.40Z" fill="#149bbe"/>
<path d="M269.24,398.80L272.24,393.20L266.24,393.20Z" fill="#149bbe"/>
<path d="M286.63,398.80L289.63,393.20L283.63,393.20Z" fill="#149bbe"/>
<path d="M312.73,404.20L315.73,398.60L309.73,398.60Z" fill="#149bbe"/>
<path d="M347.51,398.00L350.51,392.40L344.51,392.40Z" fill="#149bbe"/></g>
<g clip-path="url(#cr)"><path d="M56.15,420.20 L64.85,443.60 L73.54,457.60 L82.24,463.90 L90.94,466.50 L99.64,464.70 L108.33,464.80 L117.03,460.60 L125.73,458.40 L134.43,452.60 L143.12,447.90 L151.82,451.40 L160.52,446.80 L169.22,440.00 L177.91,438.70 L186.61,437.40 L199.66,439.00 L217.05,421.80 L234.45,426.30 L251.84,430.20 L269.24,402.90 L286.63,410.50 L312.73,415.40 L347.51,410.00" fill="none" stroke="#ff0000" stroke-width="1.05" stroke-dasharray="1.1 1.2"/>
<path d="M177.91,437.91V439.49M186.61,436.61V438.19M199.66,437.42V440.58M217.05,419.82V423.78M234.45,424.32V428.28M251.84,428.22V432.18M269.24,400.53V405.27M286.63,406.94V414.06M312.73,412.00V418.80M347.51,405.26V414.74" stroke="#ff0000" stroke-width="1.05" stroke-dasharray="1.1 1.2"/>
<path d="M176.71,437.91h2.4M176.71,439.49h2.4M185.41,436.61h2.4M185.41,438.19h2.4M198.46,437.42h2.4M198.46,440.58h2.4M215.85,419.82h2.4M215.85,423.78h2.4M233.25,424.32h2.4M233.25,428.28h2.4M250.64,428.22h2.4M250.64,432.18h2.4M268.04,400.53h2.4M268.04,405.27h2.4M285.43,406.94h2.4M285.43,414.06h2.4M311.53,412.00h2.4M311.53,418.80h2.4M346.31,405.26h2.4M346.31,414.74h2.4" stroke="#ff0000" stroke-width="0.9"/>
<path d="M56.15,417.00L58.30,420.20L56.15,423.40L54.00,420.20Z" fill="#ff0000"/>
<path d="M64.85,440.40L67.00,443.60L64.85,446.80L62.70,443.60Z" fill="#ff0000"/>
<path d="M73.54,454.40L75.69,457.60L73.54,460.80L71.39,457.60Z" fill="#ff0000"/>
<path d="M82.24,460.70L84.39,463.90L82.24,467.10L80.09,463.90Z" fill="#ff0000"/>
<path d="M90.94,463.30L93.09,466.50L90.94,469.70L88.79,466.50Z" fill="#ff0000"/>
<path d="M99.64,461.50L101.79,464.70L99.64,467.90L97.49,464.70Z" fill="#ff0000"/>
<path d="M108.33,461.60L110.48,464.80L108.33,468.00L106.18,464.80Z" fill="#ff0000"/>
<path d="M117.03,457.40L119.18,460.60L117.03,463.80L114.88,460.60Z" fill="#ff0000"/>
<path d="M125.73,455.20L127.88,458.40L125.73,461.60L123.58,458.40Z" fill="#ff0000"/>
<path d="M134.43,449.40L136.58,452.60L134.43,455.80L132.28,452.60Z" fill="#ff0000"/>
<path d="M143.12,444.70L145.27,447.90L143.12,451.10L140.97,447.90Z" fill="#ff0000"/>
<path d="M151.82,448.20L153.97,451.40L151.82,454.60L149.67,451.40Z" fill="#ff0000"/>
<path d="M160.52,443.60L162.67,446.80L160.52,450.00L158.37,446.80Z" fill="#ff0000"/>
<path d="M169.22,436.80L171.37,440.00L169.22,443.20L167.07,440.00Z" fill="#ff0000"/>
<path d="M177.91,435.50L180.06,438.70L177.91,441.90L175.76,438.70Z" fill="#ff0000"/>
<path d="M186.61,434.20L188.76,437.40L186.61,440.60L184.46,437.40Z" fill="#ff0000"/>
<path d="M199.66,435.80L201.81,439.00L199.66,442.20L197.51,439.00Z" fill="#ff0000"/>
<path d="M217.05,418.60L219.20,421.80L217.05,425.00L214.90,421.80Z" fill="#ff0000"/>
<path d="M234.45,423.10L236.60,426.30L234.45,429.50L232.30,426.30Z" fill="#ff0000"/>
<path d="M251.84,427.00L253.99,430.20L251.84,433.40L249.69,430.20Z" fill="#ff0000"/>
<path d="M269.24,399.70L271.39,402.90L269.24,406.10L267.09,402.90Z" fill="#ff0000"/>
<path d="M286.63,407.30L288.78,410.50L286.63,413.70L284.48,410.50Z" fill="#ff0000"/>
<path d="M312.73,412.20L314.88,415.40L312.73,418.60L310.58,415.40Z" fill="#ff0000"/>
<path d="M347.51,406.80L349.66,410.00L347.51,413.20L345.37,410.00Z" fill="#ff0000"/></g>
<path d="M51.80,477.9v-2.8 M51.80,317.4v2.8 M69.19,477.9v-2.8 M69.19,317.4v2.8 M86.59,477.9v-5.5 M86.59,317.4v5.5 M103.98,477.9v-2.8 M103.98,317.4v2.8 M121.38,477.9v-2.8 M121.38,317.4v2.8 M138.77,477.9v-2.8 M138.77,317.4v2.8 M156.17,477.9v-5.5 M156.17,317.4v5.5 M173.56,477.9v-2.8 M173.56,317.4v2.8 M190.96,477.9v-2.8 M190.96,317.4v2.8 M208.36,477.9v-2.8 M208.36,317.4v2.8 M225.75,477.9v-5.5 M225.75,317.4v5.5 M243.14,477.9v-2.8 M243.14,317.4v2.8 M260.54,477.9v-2.8 M260.54,317.4v2.8 M277.94,477.9v-2.8 M277.94,317.4v2.8 M295.33,477.9v-5.5 M295.33,317.4v5.5 M312.73,477.9v-2.8 M312.73,317.4v2.8 M330.12,477.9v-2.8 M330.12,317.4v2.8 M347.51,477.9v-2.8 M347.51,317.4v2.8 M364.91,477.9v-5.5 M364.91,317.4v5.5 M45.6,458.45h7.5 M371,458.45h-7.5 M45.6,442.50h5.2 M371,442.50h-5.2 M45.6,429.01h5.2 M371,429.01h-5.2 M45.6,417.32h5.2 M371,417.32h-5.2 M45.6,407.02h5.2 M371,407.02h-5.2 M45.6,397.80h7.5 M371,397.80h-7.5 M45.6,389.46h5.2 M371,389.46h-5.2 M45.6,381.85h5.2 M371,381.85h-5.2 M45.6,374.84h5.2 M371,374.84h-5.2 M45.6,368.36h5.2 M371,368.36h-5.2 M45.6,362.32h5.2 M371,362.32h-5.2 M45.6,356.67h5.2 M371,356.67h-5.2 M45.6,351.37h5.2 M371,351.37h-5.2 M45.6,346.37h5.2 M371,346.37h-5.2 M45.6,341.64h5.2 M371,341.64h-5.2 M45.6,337.15h7.5 M371,337.15h-7.5 M45.6,332.88h5.2 M371,332.88h-5.2 M45.6,328.81h5.2 M371,328.81h-5.2 M45.6,324.92h5.2 M371,324.92h-5.2 M45.6,321.20h5.2 M371,321.20h-5.2 M45.6,317.63h5.2 M371,317.63h-5.2" stroke="#000" stroke-width="1" fill="none"/>
<text x="41.3" y="462.85" font-size="11.5" text-anchor="end">0.5</text>
<text x="374.6" y="462.85" font-size="11.5">0.5</text>
<text x="41.3" y="402.20" font-size="11.5" text-anchor="end">1</text>
<text x="374.6" y="402.20" font-size="11.5">1</text>
<text x="41.3" y="341.55" font-size="11.5" text-anchor="end">2</text>
<text x="374.6" y="341.55" font-size="11.5">2</text>
<rect x="45.55" y="317.35" width="325.95" height="160.5" fill="none" stroke="#000" stroke-width="1.1"/>
<path d="M45,477.9H372.05" stroke="#000" stroke-width="1.8"/>
<text x="87.19" y="488.6" font-size="11.5" text-anchor="middle">2</text>
<text x="156.77" y="488.6" font-size="11.5" text-anchor="middle">4</text>
<text x="226.35" y="488.6" font-size="11.5" text-anchor="middle">6</text>
<text x="295.33" y="488.6" font-size="11.5" text-anchor="middle">8</text>
<text x="364.91" y="488.6" font-size="11.5" text-anchor="middle">10</text>
<text x="243.0" y="501.3" font-size="12.5">p</text>
<text x="250.0" y="507.6" font-size="8">T</text>
<text x="257.8" y="501.3" font-size="12.5" textLength="116.8" lengthAdjust="spacingAndGlyphs">(leading track) [GeV]</text>
<g transform="translate(16.3,101.3) rotate(-90)" font-size="11.8"><text x="-0.2" y="0">#</text><path d="M10.5,-9.3L7.4,-4L10.5,1.3" fill="none" stroke="#000" stroke-width="0.8"/><text x="10.6" y="0">d</text><text x="16.2" y="-7.3" font-size="7.2">2</text><text x="24.6" y="0">N</text><text x="32.4" y="1.4" font-size="7.8">chg</text><text x="44.0" y="0" font-size="12.6" textLength="35.6" lengthAdjust="spacingAndGlyphs">/dηdφ#</text><path d="M80.7,-9.3L83.9,-4L80.7,1.3" fill="none" stroke="#000" stroke-width="0.8"/></g>
<text transform="translate(18.3,427.3) rotate(-90)" font-size="9.1">Ratio to ATLAS</text>
<text transform="translate(380.0,127.2) rotate(-90)" font-size="9.8" textLength="109.4" lengthAdjust="spacingAndGlyphs" fill="#777">Rivet 4.1.0, ≥ 2.1M events</text>
<text transform="translate(380.5,313) rotate(-90)" font-size="9.3" fill="#777">mcplots.cern.ch [arXiv:1306.3436]</text>
</svg></div></body></html>
